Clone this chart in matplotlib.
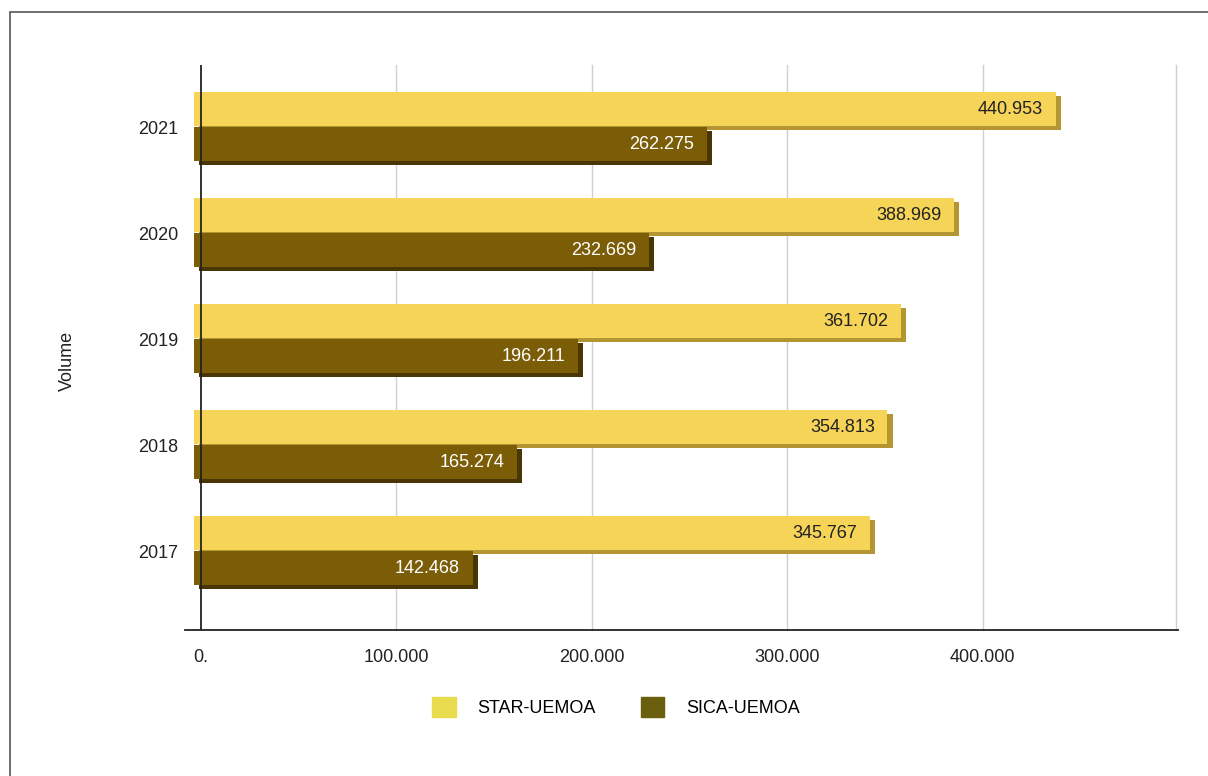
import matplotlib.pyplot as plt
import numpy as np
from matplotlib.patches import Patch, Rectangle

plt.rcParams['font.family'] = ['Liberation Sans', 'DejaVu Sans']

years = ['2017', '2018', '2019', '2020', '2021']
star = [345767, 354813, 361702, 388969, 440953]
sica = [142468, 165274, 196211, 232669, 262275]
xticks = [0, 100000, 200000, 300000, 400000]
xlabels = ['0.', '100.000', '200.000', '300.000', '400.000']

def fmt(v):
    return f'{v:,}'.replace(',', '.')

fig = plt.figure(figsize=(12.08, 7.76), dpi=100)
ax = fig.add_axes([0.1531, 0.1881, 0.8221, 0.7281])

y = np.arange(len(years))
h = 0.32
dx, dy = 2600, 0.04

star_c, star_sh = '#F6D458', '#B39531'
sica_c, sica_sh = '#7C5D07', '#4A3604'

# shadows for a bit of depth
ax.barh(y + 0.17 - dy, star, height=h, left=-3500 + dx, color=star_sh, zorder=2)
ax.barh(y - 0.16 - dy, sica, height=h, left=-3500 + dx, color=sica_sh, zorder=2)
ax.barh(y + 0.17, star, height=h, left=-3500, color=star_c, zorder=3)
ax.barh(y - 0.16, sica, height=h, left=-3500, color=sica_c, zorder=3)

for i in range(len(years)):
    ax.annotate(fmt(star[i]), (star[i], y[i] + 0.17), xytext=(-14, 0),
                textcoords='offset points', ha='right', va='center',
                fontsize=13, color='#222222', zorder=5)
    ax.annotate(fmt(sica[i]), (sica[i], y[i] - 0.16), xytext=(-14, 0),
                textcoords='offset points', ha='right', va='center',
                fontsize=13, color='white', zorder=5)

ax.set_xlim(-8200, 500000)
ax.set_ylim(-0.745, 4.585)
ax.set_xticks(xticks)
ax.set_xticklabels(xlabels, fontsize=13, color='#222222')
ax.set_yticks(y)
ax.set_yticklabels(years, fontsize=13, color='#222222')
ax.tick_params(length=0)
ax.tick_params(axis='x', pad=14)
ax.tick_params(axis='y', pad=5)

for gx in [100000, 200000, 300000, 400000, 499000]:
    ax.axvline(gx, color='#d0d0d0', lw=1, zorder=1, clip_on=False)
ax.axvline(0, color='#222222', lw=1.3, zorder=4)

for s in ['top', 'right', 'left']:
    ax.spines[s].set_visible(False)
ax.spines['bottom'].set_color('#222222')
ax.spines['bottom'].set_linewidth(1.3)

fig.text(0.056, 0.535, 'Volume', rotation=90, ha='center', va='center',
         fontsize=13, color='#222222')

handles = [Patch(color='#E9DB4E', label='STAR-UEMOA'),
           Patch(color='#6B5E0E', label='SICA-UEMOA')]
fig.legend(handles=handles, loc='center', bbox_to_anchor=(0.51, 0.089),
           ncol=2, frameon=False, fontsize=13, handlelength=1.3,
           handleheight=1.3, columnspacing=2.5, handletextpad=1.2)

fig.patches.append(Rectangle((10 / 1208, -0.05), 1.0, 1.05 - 12 / 776,
                             transform=fig.transFigure, fill=False,
                             edgecolor='#555555', lw=1.2))

plt.savefig('out.png')
